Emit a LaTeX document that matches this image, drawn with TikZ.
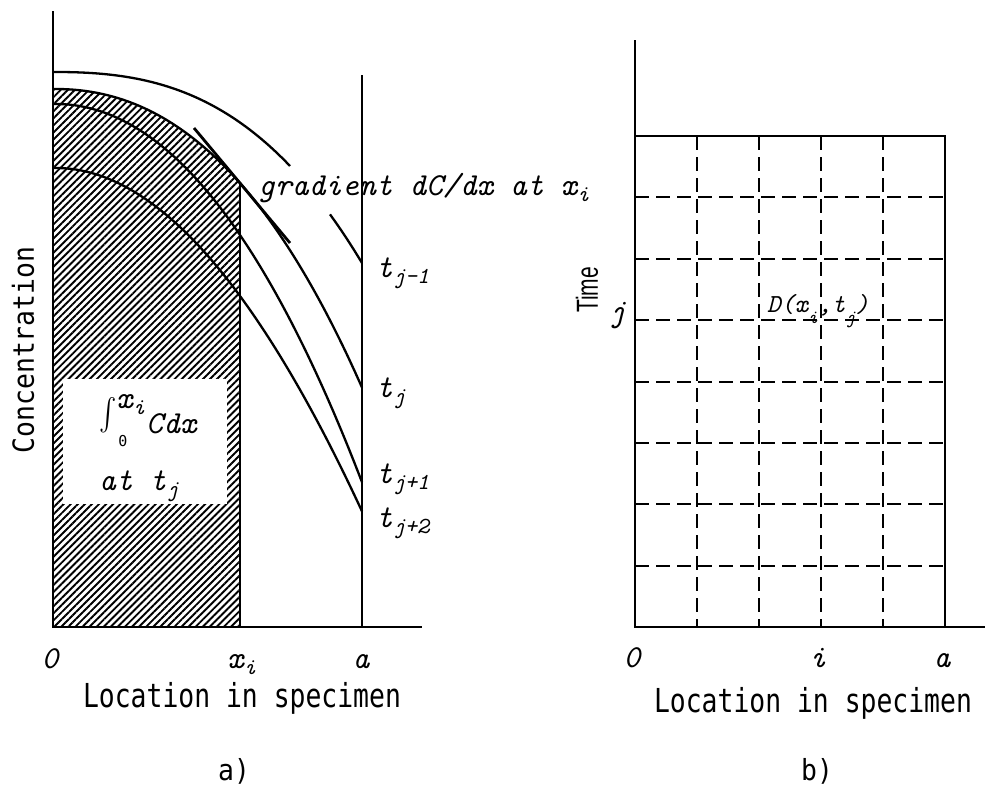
\documentclass[tikz,border=0pt]{standalone}
\usepackage{fontspec}
\usepackage{graphicx}
\usetikzlibrary{patterns.meta}
\newfontfamily\sansmono{DejaVu Sans Mono}
\newfontfamily\helvfont{Liberation Sans}
\newcommand\subt[1]{\raisebox{-0.2em}{\fontsize{23}{23}\selectfont #1}}
\newcommand\subd[1]{\raisebox{-0.45em}{\fontsize{19}{19}\selectfont #1}}
\tikzset{
  axisline/.style={line width=2.8pt},
  curveline/.style={line width=2.3pt},
  gridline/.style={line width=2pt, dash pattern=on 14pt off 7pt},
  lab/.style={inner sep=0pt, font=\ttfamily\itshape\fontsize{32}{32}\selectfont},
  dlab/.style={inner sep=0pt, font=\ttfamily\itshape\fontsize{26}{26}\selectfont},
  captext/.style={inner sep=0pt, font=\sansmono\fontsize{26.4}{26.4}\selectfont},
  declare function={cv(\x,\a,\b,\c)=\a+(\b+\c*(\x-56)/100)*((\x-56)/100)*((\x-56)/100);},
}
\begin{document}
\begin{tikzpicture}[x=1pt,y=-1pt]
\useasboundingbox (0,0) rectangle (985,787);
\fill[white] (0,0) rectangle (985,787);

% ---------- panel a ----------
% hatched integral area under t_j up to x_i
\fill[pattern={Lines[angle=45,distance=5pt,line width=1.9pt]}]
  plot[domain=53:240,samples=60] (\x,{cv(\x,89,21.56,3.373)}) -- (240,627) -- (53,627) -- cycle;
\fill[white] (63,379) rectangle (227,504);

% axes
\coordinate (aO) at (53,627);
\coordinate (aYtop) at (53,11);
\coordinate (aXend) at (422,627);
\coordinate (aTop) at (362,75);
\coordinate (aBot) at (362,627);
\coordinate (xiTop) at (240,183);
\coordinate (xiBot) at (240,627);
\draw[axisline] (aYtop) -- (aO) -- (aXend);
\draw[curveline] (aTop) -- (aBot);
\draw[curveline] (xiTop) -- (xiBot);

% concentration profiles
\draw[curveline] plot[domain=53:290,samples=60] (\x,{cv(\x,72,6.668,4.487)});
\draw[curveline] plot[domain=330:362,samples=10] (\x,{cv(\x,72,6.668,4.487)});
\draw[curveline] plot[domain=53:362,samples=80] (\x,{cv(\x,89,21.56,3.373)});
\draw[curveline] plot[domain=53:362,samples=80] (\x,{cv(\x,104,36.13,1.392)});
\draw[curveline] plot[domain=53:362,samples=80] (\x,{cv(\x,168,39.54,-0.94)});

% tangent (gradient) line
\coordinate (g1) at (194,128);
\coordinate (g2) at (290,243);
\draw[line width=2.8pt] (g1) -- (g2);

% labels panel a
\node[lab,anchor=base west] (grad) at (258,195) {gradient dC/dx at x\subt{i}};
\node[lab,anchor=base west] (tjm1) at (376,277) {t\subt{j-1}};
\node[lab,anchor=base west] (tj) at (376,397) {t\subt{j}};
\node[lab,anchor=base west] (tjp1) at (376,483) {t\subt{j+1}};
\node[lab,anchor=base west] (tjp2) at (376,527) {t\subt{j+2}};

\node[inner sep=0pt] (intsign) at (108,415) {\scalebox{2.6}[3.2]{$\int$}};
\node[inner sep=0pt,font=\sansmono\fontsize{15}{15}\selectfont] (intlow) at (123,441) {0};
\node[lab,anchor=base west] (intup) at (116,408) {x\subt{i}};
\node[lab,anchor=base west] (intbody) at (146,433) {Cdx};
\node[lab,anchor=base west] (atlab) at (99,490) {at t\subt{j}};

\node[lab,anchor=base] (a0) at (50,668) {0};
\node[lab,anchor=base west] (axi) at (227,668) {x\subt{i}};
\node[lab,anchor=base] (aa) at (361,668) {a};

\node[captext,rotate=90] (conc) at (23,350) {\scalebox{1}[1.1]{Concentration}};
\node[captext] (aloc) at (242,698) {\scalebox{1}[1.25]{Location in specimen}};
\node[captext] (acap) at (234,771) {\scalebox{1}[1.1]{a)}};

% ---------- panel b ----------
\coordinate (bO) at (635,627);
\coordinate (bYtop) at (635,40);
\coordinate (bXend) at (985,627);
\coordinate (bTL) at (635,136);
\coordinate (bTR) at (945,136);
\coordinate (bBR) at (945,627);
\draw[axisline] (bYtop) -- (bO) -- (bXend);
\draw[curveline] (bTL) -- (bTR) -- (bBR);
\foreach \k in {1,...,7}{
  \draw[gridline] (635,{136+61.375*\k}) -- (945,{136+61.375*\k});
}
\foreach \k in {1,...,4}{
  \draw[gridline] ({635+62*\k},136) -- ({635+62*\k},627);
}

\node[dlab,anchor=base west] (dlabel) at (767,312) {D(x\subd{i},t\subd{j})};
\node[lab] (bj) at (617,316) {j};
\node[inner sep=0pt,font=\helvfont\fontsize{21}{21}\selectfont,rotate=90] (btime) at (587,290) {\scalebox{1}[1.45]{Time}};

\node[lab,anchor=base] (b0) at (632,667) {0};
\node[lab,anchor=base] (bi) at (818,667) {i};
\node[lab,anchor=base] (ba) at (942,667) {a};

\node[captext] (bloc) at (813,703) {\scalebox{1}[1.25]{Location in specimen}};
\node[captext] (bcap) at (817,771) {\scalebox{1}[1.1]{b)}};
\end{tikzpicture}
\end{document}
